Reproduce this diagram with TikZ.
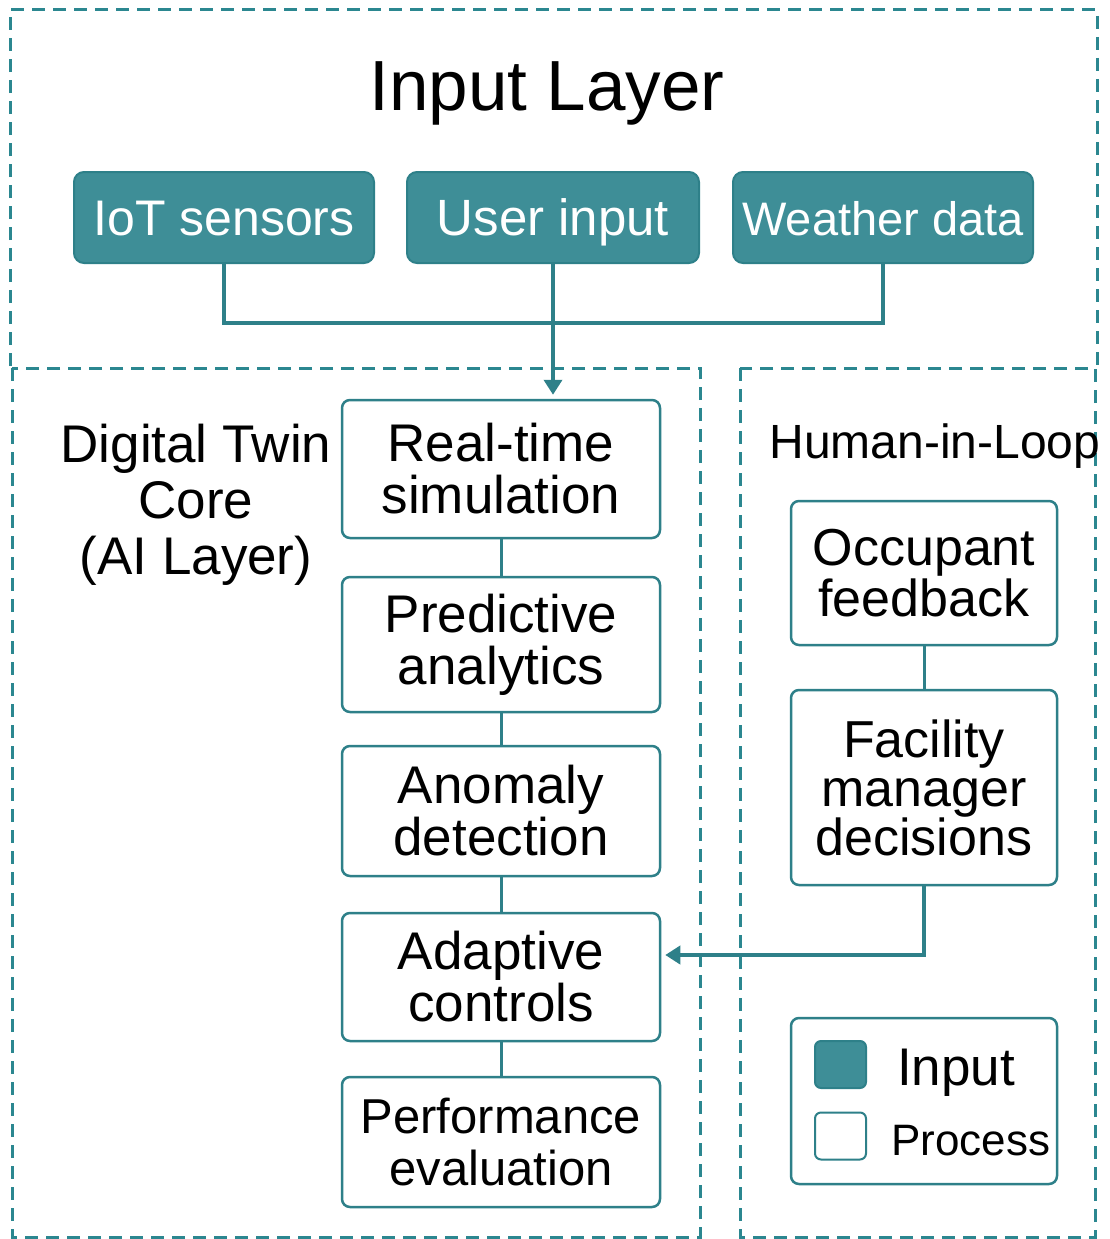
\documentclass[tikz,border=0pt]{standalone}
\usepackage{fontspec}
\setmainfont{Liberation Sans}
\usetikzlibrary{arrows.meta,calc}
\definecolor{tealfill}{HTML}{3E8E97}
\definecolor{tealline}{HTML}{2E8089}
\definecolor{tealdash}{HTML}{2B8790}
\begin{document}
\begin{tikzpicture}[x=1pt,y=-1pt,
  inbox/.style={fill=tealfill, draw=tealline, line width=2pt, rounded corners=10pt, text=white,
    inner sep=0pt, minimum height=91pt, text height=35pt, text depth=0pt},
  procbox/.style={draw=tealline, fill=white, line width=2.5pt, rounded corners=8pt, align=center,
    font=\fontsize{53}{52}\selectfont, inner sep=0pt},
  conn/.style={draw=tealline, line width=4pt},
  link/.style={draw=tealline, line width=3pt},
  arr/.style={conn, -{Triangle[width=18pt,length=15pt]}, shorten >=4pt},
  zone/.style={draw=tealdash, line width=3pt, dash pattern=on 13pt off 8pt},
  lbl/.style={font=\fontsize{53}{56}\selectfont, align=center, inner sep=0pt}
]
\useasboundingbox (0,0) rectangle (1109,1239);
\fill[white] (0,0) rectangle (1109,1239);

% zones
\draw[zone] (10,366) -- (10,10) -- (1097,10) -- (1097,366);
\draw[zone] (12,368) rectangle (700,1237);
\draw[zone] (740,368) rectangle (1095,1237);

% title
\node[anchor=base, inner sep=0pt, font=\fontsize{71}{74}\selectfont] (title) at (547,110) {Input Layer};

% input nodes
\node[inbox, minimum width=300pt, font=\fontsize{50}{52}\selectfont] (iot) at (224,217.5) {IoT sensors};
\node[inbox, minimum width=292pt, font=\fontsize{51}{52}\selectfont] (ui) at (553,217.5) {User input};
\node[inbox, minimum width=300pt, font=\fontsize{47}{50}\selectfont] (wd) at (883,217.5) {Weather data};

% process nodes
\node[procbox, minimum width=318pt, minimum height=138pt] (rt) at (501,469) {Real-time\\simulation};
\node[procbox, minimum width=318pt, minimum height=135pt] (pa) at (501,644.5) {Predictive\\analytics};
\node[procbox, minimum width=318pt, minimum height=130pt] (ad) at (501,811) {Anomaly\\detection};
\node[procbox, minimum width=318pt, minimum height=128pt] (ac) at (501,977) {Adaptive\\controls};
\node[procbox, minimum width=318pt, minimum height=130pt, font=\fontsize{49}{52}\selectfont] (pe) at (501,1142) {Performance\\evaluation};

% core label
\node[lbl] (core) at (196,505) {Digital Twin\\Core\\(AI Layer)};

% human in loop
\node[anchor=base, inner sep=0pt, font=\fontsize{48}{50}\selectfont] (hil) at (935,458) {Human-in-Loop};
\node[procbox, minimum width=266pt, minimum height=144pt, font=\fontsize{52}{51}\selectfont] (of) at (924,573) {Occupant\\feedback};
\node[procbox, minimum width=266pt, minimum height=195pt, font=\fontsize{52}{49}\selectfont] (fm) at (924,787.5) {Facility\\manager\\decisions};

% legend
\node[procbox, minimum width=266pt, minimum height=166pt] (lg) at (924,1101) {};
\node[draw=tealline, fill=tealfill, line width=2pt, rounded corners=6pt, minimum width=51pt, minimum height=47pt, inner sep=0pt] (swi) at (840.5,1064.5) {};
\node[draw=tealline, fill=white, line width=2pt, rounded corners=6pt, minimum width=51pt, minimum height=47pt, inner sep=0pt] (swp) at (840.5,1136) {};
\node[anchor=base west, inner sep=0pt, font=\fontsize{53}{56}\selectfont] (li) at (897,1085) {Input};
\node[anchor=base west, inner sep=0pt, font=\fontsize{44}{46}\selectfont] (lp) at (891,1155) {Process};

% connectors
\coordinate (join) at (553,323);
\draw[conn] (iot.south) |- (join) -| (wd.south);
\draw[arr] (ui.south) -- (ui.south |- rt.north);
\draw[link] (rt.south) -- (pa.north);
\draw[link] (pa.south) -- (ad.north);
\draw[link] (ad.south) -- (ac.north);
\draw[link] (ac.south) -- (pe.north);
\draw[link] (of.south) -- (fm.north);
\draw[arr] (fm.south) |- ([yshift=22pt]ac.east);
\end{tikzpicture}
\end{document}
